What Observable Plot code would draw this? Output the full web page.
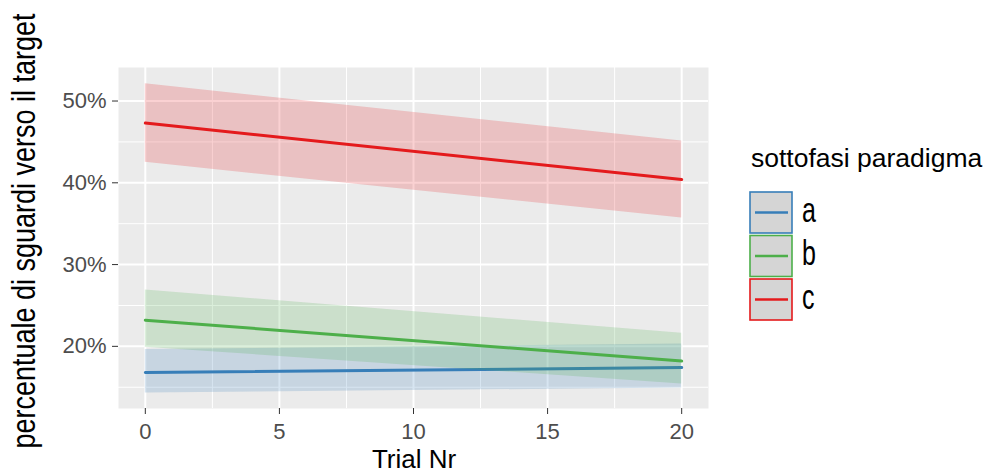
<!DOCTYPE html>
<html>
<head>
<meta charset="utf-8">
<script src="https://cdn.jsdelivr.net/npm/d3@7"></script>
<script src="https://cdn.jsdelivr.net/npm/@observablehq/plot@0.6"></script>
<style>
  html, body { margin: 0; padding: 0; background: #ffffff; }
  svg { display: block; }
</style>
</head>
<body>
<div id="chart"></div>
<script>
// ---- data ----
const trial = [0, 20];
const groups = ["a", "b", "c"];
const fitA = [16.8, 17.4];
const loA  = [14.3, 14.9];
const hiA  = [19.6, 20.3];
const fitB = [23.2, 18.2];
const loB  = [19.9, 15.4];
const hiB  = [26.9, 21.6];
const fitC = [47.3, 40.4];
const loC  = [42.5, 35.7];
const hiC  = [52.1, 45.1];
const colors = ["#377EB8", "#4DAF4A", "#E41A1C"];
const xTicks = [0, 5, 10, 15, 20];
const xMinor = [2.5, 7.5, 12.5, 17.5];
const yTicks = [20, 30, 40, 50];
const yMinor = [15, 25, 35, 45];
const xTitle = "Trial Nr";
const yTitle = "percentuale di sguardi verso il target";
const legendTitle = "sottofasi paradigma";

const fits = [fitA, fitB, fitC], los = [loA, loB, loC], his = [hiA, hiB, hiC];
const rows = groups.flatMap((g, i) => trial.map((t, j) => ({
  g, trial: t, fit: fits[i][j], lo: los[i][j], hi: his[i][j]
})));

const font = "'Liberation Sans', Arial, sans-serif";
const marks = [
  Plot.frame({fill: "#EBEBEB", stroke: null}),
  Plot.ruleX(xMinor, {stroke: "#ffffff", strokeWidth: 1}),
  Plot.ruleY(yMinor, {stroke: "#ffffff", strokeWidth: 1}),
  Plot.ruleX(xTicks, {stroke: "#ffffff", strokeWidth: 2}),
  Plot.ruleY(yTicks, {stroke: "#ffffff", strokeWidth: 2})
];
groups.forEach(g => {
  const d = rows.filter(r => r.g === g);
  marks.push(Plot.areaY(d, {x: "trial", y1: "lo", y2: "hi", fill: "g", fillOpacity: 0.2}));
  marks.push(Plot.line(d, {x: "trial", y: "fit", stroke: "g", strokeWidth: 3}));
});
marks.push(Plot.axisX(xTicks, {tickSize: 6, tickPadding: 9, label: null, tickFormat: d => String(d)}));
marks.push(Plot.axisY(yTicks, {tickSize: 6, tickPadding: 6, label: null, tickFormat: d => `${d}%`}));

const svg = Plot.plot({
  width: 988,
  height: 473,
  marginLeft: 118,
  marginRight: 280,
  marginTop: 67,
  marginBottom: 65,
  style: {fontFamily: font, fontSize: "22px", color: "#333333", background: "#ffffff"},
  x: {domain: [-1, 21]},
  y: {domain: [12.4, 54.1]},
  color: {domain: groups, range: colors},
  marks
});
document.getElementById("chart").appendChild(svg);

const s = d3.select(svg);
s.selectAll('[aria-label="x-axis tick label"], [aria-label="y-axis tick label"]').attr("fill", "#4D4D4D");
s.selectAll('[aria-label="x-axis tick label"] text, [aria-label="y-axis tick label"] text').attr("fill", "#4D4D4D");

// axis titles
s.append("text")
  .attr("transform", "translate(414,468)")
  .attr("text-anchor", "middle")
  .attr("font-family", font).attr("font-size", 26).attr("fill", "#000")
  .text(xTitle);
s.append("text")
  .attr("transform", "translate(35,231) rotate(-90) scale(1,1.2)")
  .attr("text-anchor", "middle")
  .attr("font-family", font).attr("font-size", 27).attr("fill", "#000")
  .text(yTitle);

// legend
const lg = s.append("g").attr("text-anchor", "start");
lg.append("text")
  .attr("x", 751).attr("y", 167)
  .attr("text-anchor", "start")
  .attr("font-family", font).attr("font-size", 26.5).attr("fill", "#000")
  .text(legendTitle);
groups.forEach((g, i) => {
  const top = 192 + i * 43.5;
  const cy = top + 20.5;
  lg.append("rect")
    .attr("x", 750).attr("y", top).attr("width", 42).attr("height", 41)
    .attr("fill", "#D5D5D5").attr("stroke", colors[i]).attr("stroke-width", 1.6);
  lg.append("line")
    .attr("x1", 755).attr("x2", 788).attr("y1", cy).attr("y2", cy)
    .attr("stroke", colors[i]).attr("stroke-width", 2.6);
  lg.append("text")
    .attr("transform", `translate(802,${cy + 9.1}) scale(1,1.4)`)
    .attr("text-anchor", "start")
    .attr("font-family", font).attr("font-size", 25).attr("fill", "#000")
    .text(g);
});
</script>
</body>
</html>
